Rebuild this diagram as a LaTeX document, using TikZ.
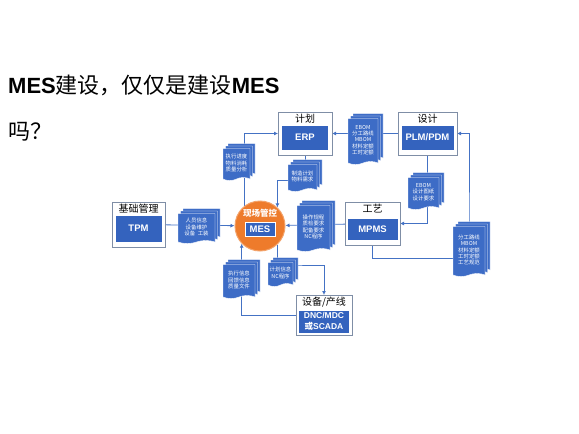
\documentclass[tikz,border=0pt]{standalone}
\usepackage{fontspec}
\setmainfont{Liberation Sans}
\newfontfamily\cjk{Noto Sans CJK SC}
\usetikzlibrary{arrows.meta,positioning,shapes.symbols,shadows,backgrounds}
\definecolor{mesblue}{HTML}{3463BE}
\definecolor{docblue}{HTML}{3D6CC6}
\definecolor{linkblue}{HTML}{4472C4}
\definecolor{mesorange}{HTML}{EE7B2B}
\definecolor{framegray}{HTML}{7F8EA6}
\tikzset{
  sysframe/.style={draw=framegray,line width=0.9pt,outer sep=0pt},
  framelabel/.style={font=\cjk\fontsize{10}{12}\selectfont,inner sep=0.5pt},
  sysbox/.style={draw=white,fill=mesblue,text=white,outer sep=0pt,inner sep=0pt,
    align=center,font=\bfseries\fontsize{9.5}{11}\selectfont},
  doc/.style={tape,tape bend top=none,tape bend height=3pt,fill=docblue,draw=white,
    line width=0.4pt,text=white,align=center,inner sep=0.5pt,
    font=\cjk\fontsize{5.4}{6.3}\selectfont,
    copy shadow={shadow xshift=5pt,shadow yshift=5pt,fill=docblue,draw=white},
    copy shadow={shadow xshift=2.5pt,shadow yshift=2.5pt,fill=docblue,draw=white}},
  hub/.style={circle,fill=mesorange,draw=mesorange!70,line width=1pt,minimum size=50pt},
  flow/.style={-{Latex[length=4pt,width=4pt]},linkblue,line width=0.8pt}
}
\begin{document}
\begin{tikzpicture}[x=1pt,y=-1pt]
  \useasboundingbox (0,0) rectangle (579,434);
  % title
  \node[anchor=base west,inner sep=0pt,font=\fontsize{22}{26}\selectfont] (title) at (8,93)
    {\textbf{MES}{\cjk 建设，仅仅是建设}\textbf{MES}};
  \node[anchor=base west,inner sep=0pt,font=\fontsize{22}{26}\selectfont] (titleq) at (8,139)
    {\cjk 吗？};
  % systems
  \node[sysframe,minimum width=54pt,minimum height=43pt] (erpframe) at (305,133.5) {};
  \node[framelabel,below=1pt of erpframe.north] (erplabel) {计划};
  \node[sysbox,minimum width=47pt,minimum height=25pt,above=5pt of erpframe.south] (erp) {ERP};
  \node[sysframe,minimum width=59pt,minimum height=43pt] (plmframe) at (427.5,133.5) {};
  \node[framelabel,below=1pt of plmframe.north] (plmlabel) {设计};
  \node[sysbox,minimum width=53pt,minimum height=25pt,above=5pt of plmframe.south] (plm) {PLM/PDM};
  \node[sysframe,minimum width=53pt,minimum height=45pt] (tpmframe) at (138.5,224.5) {};
  \node[framelabel,below=1pt of tpmframe.north] (tpmlabel) {基础管理};
  \node[sysbox,minimum width=47pt,minimum height=27pt,above=5pt of tpmframe.south] (tpm) {TPM};
  \node[sysframe,minimum width=55pt,minimum height=43pt] (mpmsframe) at (372.5,223.5) {};
  \node[framelabel,below=1pt of mpmsframe.north] (mpmslabel) {工艺};
  \node[sysbox,minimum width=51pt,minimum height=22pt,above=5pt of mpmsframe.south] (mpms) {MPMS};
  \node[sysframe,minimum width=56pt,minimum height=40pt] (eqframe) at (324,315) {};
  \node[framelabel,below=1pt of eqframe.north] (eqlabel) {设备/产线};
  \node[sysbox,minimum width=51pt,minimum height=23pt,above=2pt of eqframe.south,
    font=\bfseries\fontsize{8.5}{10.5}\selectfont] (eq) {DNC/MDC\\{\cjk 或}SCADA};
  % MES hub
  \node[hub] (mes) at (260,226) {};
  \node[text=white,inner sep=0pt,font=\cjk\bfseries\fontsize{8.5}{9}\selectfont] (meslabel) at (260,213) {现场管控};
  \node[sysbox,minimum width=30pt,minimum height=14pt] (mesbox) at (260,229.5) {MES};
  % documents
  \node[doc,minimum width=30pt,minimum height=46pt] (bomdoc) at (363,140) {EBOM\\分工路线\\MBOM\\材料定额\\工时定额};
  \node[doc,minimum width=29pt,minimum height=27pt] (plandoc) at (302.5,176.5) {制造计划\\物料需求};
  \node[doc,minimum width=27pt,minimum height=32pt] (progdoc) at (236.5,163) {执行进度\\物料消耗\\质量分析};
  \node[doc,minimum width=37pt,minimum height=30pt] (staffdoc) at (196.5,227) {人员信息\\设备维护\\设备\enspace 工装};
  \node[doc,minimum width=33pt,minimum height=46pt] (procdoc) at (313.5,227) {操作规程\\质检要求\\配备要求\\NC程序};
  \node[doc,minimum width=31pt,minimum height=32pt] (designdoc) at (423.5,192) {EBOM\\设计图纸\\设计要求};
  \node[doc,minimum width=32pt,minimum height=50pt] (routedoc) at (469,250) {分工路线\\MBOM\\材料定额\\工时定额\\工艺规范};
  \node[doc,minimum width=32pt,minimum height=34pt] (fbdoc) at (239,280) {执行信息\\回馈信息\\质量文件};
  \node[doc,minimum width=25pt,minimum height=24pt] (ncdoc) at (280.5,273) {计划信息\\NC程序};
  % links
  \begin{scope}[on background layer]
    \draw[flow] (plmframe) -- (erpframe);
    \draw[flow] (mes.127) |- (erpframe.west);
    \draw[flow] (erpframe.south) |- ([yshift=-4pt]plandoc.center) -| (mes.47);
    \draw[flow] (tpmframe) -- (mes);
    \draw[flow] (mpmsframe) -- (mes);
    \draw[flow] (plmframe.south) |- (mpmsframe.east);
    \draw[flow] (mpmsframe.south) |- ([yshift=-8pt]routedoc.center) -- (routedoc.center) |- (plmframe.east);
    \draw[flow] (eqframe.west) -| (mes.224);
    \draw[flow] (mes.313) |- ([yshift=8pt]ncdoc.center) -| (eqframe.north);
  \end{scope}
\end{tikzpicture}
\end{document}
